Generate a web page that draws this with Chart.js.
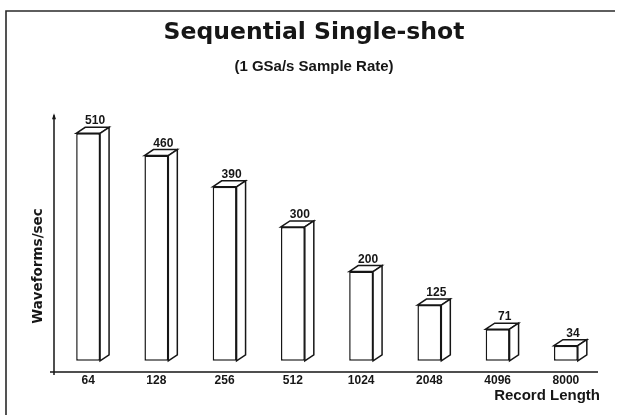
<!DOCTYPE html>
<html><head><meta charset="utf-8">
<script src="https://cdn.jsdelivr.net/npm/chart.js@4.4.1/dist/chart.umd.min.js"></script>
<style>html,body{margin:0;padding:0;background:#fff;}canvas{display:block;}</style>
</head><body>
<canvas id="c" width="618" height="415"></canvas>
<script>
const categories = ['64', '128', '256', '512', '1024', '2048', '4096', '8000'];
const waveformsPerSec = [510, 460, 390, 300, 200, 125, 71, 34];
const valueLabels = ['510', '460', '390', '300', '200', '125', '71', '34'];
const yRange = [-25, 555];
const titleText = 'Sequential Single-shot';
const subtitleText = '(1 GSa/s Sample Rate)';
const xTitle = 'Record Length';
const yTitle = 'Waveforms/sec';

const INK = '#161616';
const DX = 9, DY = 6;

const deco = {
  id: 'deco',
  beforeDraw(chart) {
    const ctx = chart.ctx;
    ctx.save();
    ctx.fillStyle = '#fff';
    ctx.fillRect(0, 0, chart.width, chart.height);
    ctx.strokeStyle = '#2a2a2a';
    ctx.lineWidth = 1.6;
    ctx.beginPath();
    ctx.moveTo(6, chart.height);
    ctx.lineTo(6, 11);
    ctx.lineTo(chart.width - 3, 11);
    ctx.stroke();
    ctx.restore();
  },
  afterDatasetsDraw(chart) {
    const ctx = chart.ctx;
    const meta = chart.getDatasetMeta(0);
    ctx.save();
    ctx.strokeStyle = INK;
    ctx.lineWidth = 1.5;
    ctx.lineJoin = 'miter';
    meta.data.forEach((bar, i) => {
      const p = bar.getProps(['x', 'y', 'base', 'width'], true);
      const l = p.x - p.width / 2, r = p.x + p.width / 2, t = p.y, b = p.base;
      ctx.fillStyle = '#fff';
      ctx.beginPath();
      ctx.moveTo(l, t); ctx.lineTo(l + DX, t - DY); ctx.lineTo(r + DX, t - DY); ctx.lineTo(r, t); ctx.closePath();
      ctx.fill(); ctx.stroke();
      ctx.beginPath();
      ctx.moveTo(r, t); ctx.lineTo(r + DX, t - DY); ctx.lineTo(r + DX, b - DY); ctx.lineTo(r, b); ctx.closePath();
      ctx.fill(); ctx.stroke();
      ctx.fillStyle = INK;
      ctx.font = 'bold 12px "Liberation Sans", Arial, sans-serif';
      ctx.textAlign = 'center';
      ctx.textBaseline = 'alphabetic';
      ctx.fillText(valueLabels[i], p.x + 7, t - DY - 3);
    });
    ctx.restore();
  },
  afterDraw(chart) {
    const ctx = chart.ctx;
    const a = chart.chartArea;
    ctx.save();
    ctx.strokeStyle = INK;
    ctx.fillStyle = INK;
    ctx.lineWidth = 1.5;
    ctx.beginPath();
    ctx.moveTo(a.left, a.bottom + 3);
    ctx.lineTo(a.left, a.top + 2);
    ctx.moveTo(a.left - 4, a.bottom);
    ctx.lineTo(a.right - 2, a.bottom);
    ctx.stroke();
    ctx.beginPath();
    ctx.moveTo(a.left, a.top);
    ctx.lineTo(a.left - 2, a.top + 6);
    ctx.lineTo(a.left + 2, a.top + 6);
    ctx.closePath();
    ctx.fill();
    ctx.translate(a.left - 16, a.bottom - 106);
    ctx.rotate(-Math.PI / 2);
    ctx.font = 'bold 13.5px "DejaVu Sans", sans-serif';
    ctx.textAlign = 'center';
    ctx.textBaseline = 'middle';
    ctx.fillText(yTitle, 0, 0);
    ctx.restore();
  }
};

new Chart(document.getElementById('c'), {
  type: 'bar',
  data: {
    labels: categories,
    datasets: [{
      data: waveformsPerSec,
      backgroundColor: '#fff',
      borderColor: INK,
      borderWidth: 1.5,
      borderSkipped: false,
      barPercentage: 0.35,
      categoryPercentage: 1
    }]
  },
  options: {
    responsive: false,
    devicePixelRatio: 1,
    animation: false,
    layout: { padding: { left: 28, right: 18, top: 0, bottom: 0 } },
    plugins: {
      legend: { display: false },
      tooltip: { enabled: false },
      title: {
        display: true, text: titleText, color: INK,
        font: { family: '"DejaVu Sans", sans-serif', size: 23.5, weight: 'bold', lineHeight: 1.2 },
        padding: { top: 19, bottom: 11 }
      },
      subtitle: {
        display: true, text: subtitleText, color: INK,
        font: { family: '"Liberation Sans", Arial, sans-serif', size: 15, weight: 'bold', lineHeight: 1.2 },
        padding: { top: 0, bottom: 37 }
      }
    },
    scales: {
      x: {
        grid: { display: false, drawTicks: false },
        border: { display: false },
        ticks: { color: INK, padding: 3, font: { family: '"Liberation Sans", Arial, sans-serif', size: 12, weight: 'bold', lineHeight: 1 } },
        title: {
          display: true, text: xTitle, align: 'end', color: INK,
          font: { family: '"Liberation Sans", Arial, sans-serif', size: 15, weight: 'bold', lineHeight: 1 },
          padding: { top: 1, bottom: 12 }
        },
        afterFit(scale) { scale.height = 43; }
      },
      y: {
        min: yRange[0], max: yRange[1],
        grid: { display: false, drawTicks: false },
        border: { display: false },
        ticks: { display: false },
        afterFit(scale) { scale.width = 26; }
      }
    }
  },
  plugins: [deco]
});
</script>
</body></html>
